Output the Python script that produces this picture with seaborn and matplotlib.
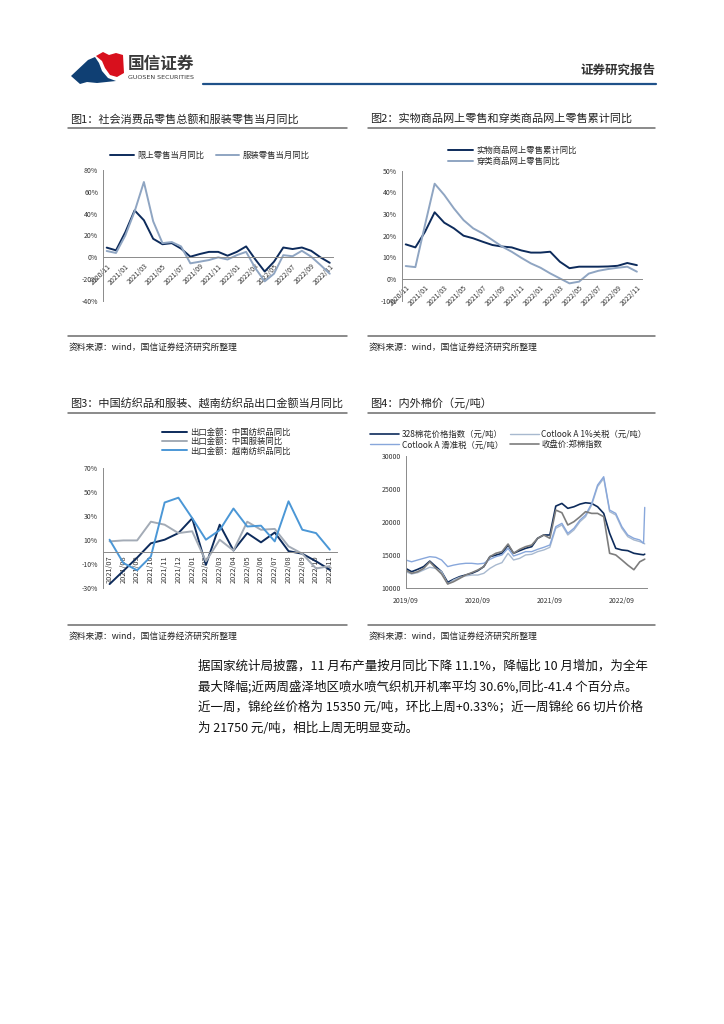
import numpy as np
import pandas as pd
import seaborn as sns
import matplotlib.pyplot as plt
import matplotlib.dates as mdates
from matplotlib.patches import Polygon

sns.set_style("white")
plt.rcParams['font.family'] = ['Noto Sans CJK SC', 'DejaVu Sans']
plt.rcParams['axes.unicode_minus'] = False

# ---- data ----
months1 = ['2020/11', '2020/12', '2021/01', '2021/02', '2021/03', '2021/04', '2021/05',
           '2021/06', '2021/07', '2021/08', '2021/09', '2021/10', '2021/11', '2021/12',
           '2022/01', '2022/02', '2022/03', '2022/04', '2022/05', '2022/06', '2022/07',
           '2022/08', '2022/09', '2022/10', '2022/11']
retail_yoy = [8.9, 6.4, 23, 43, 34, 17, 12, 13, 8, 0.6, 3, 5, 5, 1.5, 5, 10,
              -2, -13, -4, 9, 7.6, 9, 6, 0, -5]
apparel_yoy = [5.8, 4, 20, 42, 69, 33, 13, 14, 10, -5.5, -4, -2.5, 0, -2, 2, 5,
               -10, -22, -15, 2, 1, 6, 0.6, -7, -15]

online_cum = [16, 14.6, 21.8, 30.8, 26, 23.4, 20, 18.8, 17.2, 15.7, 15, 14.6, 13.2,
              12.2, 12.2, 12.6, 8, 5, 5.7, 5.7, 5.7, 5.8, 6.1, 7.4, 6.4]
apparel_online = [6, 5.5, 25, 44, 38.8, 32.6, 27.2, 23.4, 21, 18, 15, 12.6, 9.8,
                  7.2, 5.2, 2.6, 0.3, -2, -1.2, 2.5, 3.8, 4.6, 5.2, 5.7, 3.4]

months3 = ['2021/07', '2021/08', '2021/09', '2021/10', '2021/11', '2021/12', '2022/01',
           '2022/02', '2022/03', '2022/04', '2022/05', '2022/06', '2022/07', '2022/08',
           '2022/09', '2022/10', '2022/11']
cn_textile = [-27, -16, -5, 7, 10, 15.5, 27.8, -11, 22.5, 1, 15.5, 7.8, 16, 0.5, -1.7, -8, -15]
cn_apparel = [8.6, 9.4, 9.4, 25, 22.5, 15.5, 17, -8, 10, 1, 25, 18.3, 19, 4.5, -1.7, -14, -12]
vn_textile = [10, -9.4, -15.5, -4, 41, 45, 28, 10, 18, 36, 21, 21.7, 8.6, 42, 18.3, 15.5, 1.7]

dates4 = list(pd.date_range('2019-09-01', '2022-12-01', freq='MS')) + \
    [pd.Timestamp('2022-12-20'), pd.Timestamp('2022-12-26')]
cotton328 = [13000, 12500, 12860, 13270, 14100, 13270, 12500, 10900, 11360, 11760,
             12000, 12260, 12660, 13270, 14770, 15000, 15280, 16500, 15280, 15680,
             16030, 16280, 17540, 18040, 18040, 22400, 22800, 22060, 22300, 22700,
             22900, 22800, 22300, 21300, 18300, 16030, 15780, 15680, 15280, 15130,
             15050, 15150]
cotlook_1pct = [12500, 12160, 12360, 12760, 13170, 13000, 12500, 10650, 11260, 11660,
                11860, 12000, 12000, 12260, 13000, 13520, 13870, 15280, 14270, 14520,
                15030, 15130, 15530, 15780, 16180, 19050, 19550, 18040, 18800, 20050,
                20800, 22560, 25330, 26580, 21560, 21060, 19050, 17790, 17290, 17040,
                16800, 16700]
cotlook_slide = [14270, 14000, 14270, 14520, 14770, 14670, 14270, 13270, 13500, 13670,
                 13770, 13770, 13670, 13770, 14370, 14770, 15030, 16030, 14870, 15180,
                 15530, 15530, 15880, 16180, 16530, 19300, 19800, 18290, 19050, 20300,
                 21060, 22800, 25580, 26830, 21800, 21300, 19300, 18040, 17540, 17290,
                 16780, 22200]
czce_close = [12760, 12260, 12500, 13000, 14000, 13000, 12160, 10650, 11000, 11500,
              12000, 12360, 12760, 13270, 14770, 15280, 15530, 16680, 15280, 15880,
              16280, 16530, 17540, 18040, 17540, 21800, 21400, 19550, 20050, 20800,
              21560, 21300, 21300, 20800, 15280, 15030, 14270, 13500, 12800, 14000,
              14300, 14400]

NAVY = '#0d2b5b'
GRAYBLUE = '#8fa5c2'
GRAY3 = '#a3abb6'
BLUE3 = '#4b97d6'
TXT = '#333333'
SPINE = '#8a8a8a'

W, H = 724, 1024


def rect(x0, y0, x1, y1):
    return [x0 / W, 1 - y1 / H, (x1 - x0) / W, (y1 - y0) / H]


def style_axes(ax):
    for s in ['top', 'right']:
        ax.spines[s].set_visible(False)
    for s in ['left', 'bottom']:
        ax.spines[s].set_color(SPINE)
        ax.spines[s].set_linewidth(0.7)
    ax.tick_params(colors=SPINE, labelcolor=TXT, labelsize=5, length=2, width=0.6, pad=1.5)
    ax.set_xlabel('')
    ax.set_ylabel('')


fig = plt.figure(figsize=(7.24, 10.24), dpi=100)

# ---- page elements ----
page = fig.add_axes([0, 0, 1, 1])
page.set_xlim(0, W)
page.set_ylim(H, 0)
page.axis('off')

# logo
page.add_patch(Polygon([(71, 76), (88, 60), (95, 57), (99, 63), (102, 71), (108, 78),
                        (116, 81), (97, 83), (87, 82), (80, 84)], closed=True,
                       color='#0f3f73', lw=0))
page.add_patch(Polygon([(96, 56), (103, 52), (109, 55), (116, 53), (123, 55), (124, 73),
                        (117, 77), (110, 75), (105, 68), (102, 61)], closed=True,
                       color='#d8101d', lw=0))
page.text(128, 64, '国信证券', fontsize=12, color='#3a3a3a', va='center', ha='left',
          fontweight='bold')
page.text(128, 77.5, 'GUOSEN SECURITIES', fontsize=4.6, color='#3a3a3a', va='center',
          ha='left', family=['DejaVu Sans'])
page.text(655, 70, '证券研究报告', fontsize=9, color='#333333', va='center', ha='right',
          fontweight='bold')
page.plot([203, 656], [84, 84], color='#1f5189', lw=1.6)

panels = [
    (70, 119, 68, 347, 128, 336, 347, '图1：社会消费品零售总额和服装零售当月同比'),
    (370, 119, 368, 655, 128, 336, 347, '图2：实物商品网上零售和穿类商品网上零售累计同比'),
    (70, 404, 68, 347, 413, 625, 636, '图3：中国纺织品和服装、越南纺织品出口金额当月同比'),
    (370, 404, 368, 655, 413, 625, 636, '图4：内外棉价（元/吨）'),
]
for tx, ty, lx0, lx1, ly0, ly1, sy, title in panels:
    page.text(tx, ty, title, fontsize=8, color='#222222', va='center', ha='left')
    page.plot([lx0, lx1], [ly0, ly0], color='#6b6b6b', lw=1.1)
    page.plot([lx0, lx1], [ly1, ly1], color='#6b6b6b', lw=1.1)
    page.text(lx0 + 1, sy, '资料来源：wind，国信证券经济研究所整理', fontsize=6.3,
              color='#222222', va='center', ha='left')

body = ['据国家统计局披露，11 月布产量按月同比下降 11.1%，降幅比 10 月增加，为全年',
        '最大降幅;近两周盛泽地区喷水喷气织机开机率平均 30.6%,同比-41.4 个百分点。',
        '近一周，锦纶丝价格为 15350 元/吨，环比上周+0.33%；近一周锦纶 66 切片价格',
        '为 21750 元/吨，相比上周无明显变动。']
for i, line in enumerate(body):
    page.text(198, 666 + i * 20.9, line, fontsize=9.0, color='#111111', va='center', ha='left')

# ---- chart 1 ----
ax1 = fig.add_axes(rect(103, 170, 333, 301))
x1 = np.arange(len(months1))
sns.lineplot(x=x1, y=retail_yoy, color=NAVY, lw=1.4, ax=ax1, label='限上零售当月同比')
sns.lineplot(x=x1, y=apparel_yoy, color=GRAYBLUE, lw=1.4, ax=ax1, label='服装零售当月同比')
style_axes(ax1)
ax1.set_xlim(-0.4, 24.35)
ax1.set_ylim(-40, 80)
ax1.spines['bottom'].set_position(('data', 0))
ax1.set_yticks(range(-40, 81, 20))
ax1.set_yticklabels([f'{v}%' for v in range(-40, 81, 20)])
ax1.set_xticks(x1[::2])
ax1.set_xticklabels(months1[::2], rotation=45, ha='right', va='top', rotation_mode='anchor')
ax1.legend(ncol=2, loc='center', bbox_to_anchor=(210 / W, 1 - 155 / H),
           bbox_transform=fig.transFigure, frameon=False, fontsize=6, handlelength=2.8,
           columnspacing=1.4, handletextpad=0.4)

# ---- chart 2 ----
ax2 = fig.add_axes(rect(401.7, 170.7, 641.7, 300.7))
x2 = np.arange(len(months1))
sns.lineplot(x=x2, y=online_cum, color=NAVY, lw=1.4, ax=ax2, label='实物商品网上零售累计同比')
sns.lineplot(x=x2, y=apparel_online, color=GRAYBLUE, lw=1.4, ax=ax2, label='穿类商品网上零售同比')
style_axes(ax2)
ax2.set_xlim(-0.42, 24.5)
ax2.set_ylim(-10, 50)
ax2.spines['bottom'].set_position(('data', 0))
ax2.set_yticks(range(-10, 51, 10))
ax2.set_yticklabels([f'{v}%' for v in range(-10, 51, 10)])
ax2.set_xticks(x2[::2])
ax2.set_xticklabels(months1[::2], rotation=45, ha='right', va='top', rotation_mode='anchor')
ax2.legend(ncol=1, loc='center left', bbox_to_anchor=(444 / W, 1 - 156 / H),
           bbox_transform=fig.transFigure, frameon=False, fontsize=6, handlelength=3.0,
           labelspacing=0.15, handletextpad=0.4, borderpad=0)

# ---- chart 3 ----
ax3 = fig.add_axes(rect(102.7, 467.7, 336.7, 587.7))
x3 = np.arange(len(months3))
sns.lineplot(x=x3, y=cn_textile, color=NAVY, lw=1.4, ax=ax3, label='出口金额：中国纺织品同比')
sns.lineplot(x=x3, y=cn_apparel, color=GRAY3, lw=1.4, ax=ax3, label='出口金额：中国服装同比')
sns.lineplot(x=x3, y=vn_textile, color=BLUE3, lw=1.4, ax=ax3, label='出口金额：越南纺织品同比')
style_axes(ax3)
ax3.set_xlim(-0.5, 16.5)
ax3.set_ylim(-30, 70)
ax3.spines['bottom'].set_position(('data', 0))
ax3.set_yticks(range(-30, 71, 20))
ax3.set_yticklabels([f'{v}%' for v in range(-30, 71, 20)])
ax3.set_xticks(x3)
ax3.set_xticklabels(months3, rotation=90, ha='right', va='center', rotation_mode='anchor')
ax3.tick_params(axis='x', length=0, pad=3, labelsize=5.3)
ax3.set_xticks(np.arange(-0.5, 17, 1), minor=True)
ax3.tick_params(axis='x', which='minor', length=3, width=0.6, colors=SPINE)
ax3.legend(ncol=1, loc='center left', bbox_to_anchor=(158 / W, 1 - 441.5 / H),
           bbox_transform=fig.transFigure, frameon=False, fontsize=6, handlelength=3.0,
           labelspacing=0.05, handletextpad=0.4, borderpad=0)

# ---- chart 4 ----
ax4 = fig.add_axes(rect(405.7, 455.7, 646.7, 588.3))
h1 = sns.lineplot(x=dates4, y=cotton328, color=NAVY, lw=1.2, ax=ax4).lines[-1]
h2 = sns.lineplot(x=dates4, y=cotlook_1pct, color='#a8b9cf', lw=1.0, ax=ax4).lines[-1]
h3 = sns.lineplot(x=dates4, y=cotlook_slide, color='#88a7db', lw=1.0, ax=ax4).lines[-1]
h4 = sns.lineplot(x=dates4, y=czce_close, color='#7d7d7d', lw=1.2, ax=ax4).lines[-1]
style_axes(ax4)
ax4.set_xlim(pd.Timestamp('2019-09-01'), pd.Timestamp('2023-01-05'))
ax4.set_ylim(10000, 30000)
ax4.set_yticks(range(10000, 30001, 5000))
ax4.set_xticks([pd.Timestamp(d) for d in ['2019-09-01', '2020-09-01', '2021-09-01', '2022-09-01']])
ax4.xaxis.set_major_formatter(mdates.DateFormatter('%Y/%m'))
ax4.tick_params(axis='x', pad=4)
ax4.legend([h1, h3, h2, h4],
           ['328棉花价格指数（元/吨）', 'Cotlook A 滑准税（元/吨）',
            'Cotlook A 1%关税（元/吨）', '收盘价:郑棉指数'],
           ncol=2, loc='center left', bbox_to_anchor=(366 / W, 1 - 439.5 / H),
           bbox_transform=fig.transFigure, frameon=False, fontsize=6, handlelength=3.5,
           labelspacing=0.2, handletextpad=0.3, columnspacing=0.8, borderpad=0)

fig.savefig('out.png', dpi=100)
